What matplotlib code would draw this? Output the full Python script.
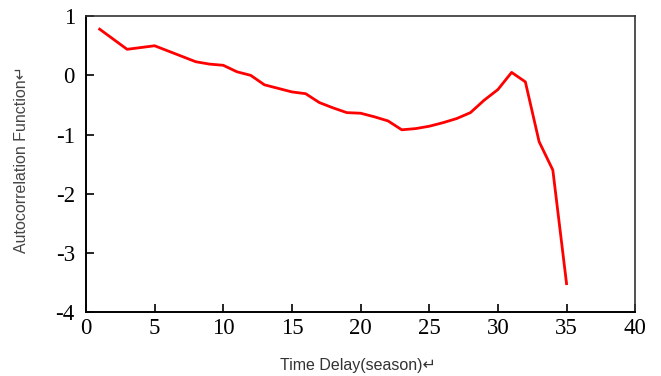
# plot.py
# autocorrelation vs time delay

import matplotlib.pyplot as plt

plt.rcParams['axes.unicode_minus'] = False

delay = list(range(1, 36))
acf = [0.78, 0.61, 0.44, 0.47, 0.50, 0.41, 0.32, 0.23, 0.19, 0.17,
       0.06, 0.00, -0.16, -0.22, -0.28, -0.31, -0.46, -0.55, -0.63, -0.64,
       -0.70, -0.77, -0.92, -0.90, -0.86, -0.80, -0.73, -0.63, -0.42, -0.24,
       0.05, -0.11, -1.12, -1.60, -3.52]

xticks = [0, 5, 10, 15, 20, 25, 30, 35, 40]
yticks = [1, 0, -1, -2, -3, -4]

fig = plt.figure(figsize=(6.61, 3.76), dpi=100)
ax = fig.add_axes([0.130, 0.170, 0.831, 0.787])

ax.plot(delay, acf, color='red', linewidth=2.0)

ax.set_xlim(0, 40)
ax.set_ylim(-4, 1)
ax.set_xticks(xticks)
ax.set_yticks(yticks)
ax.tick_params(direction='in', length=6, width=1.2, top=False, right=False,
               labelsize=16.5)
ax.tick_params(axis='x', pad=4)
ax.tick_params(axis='y', pad=8)
for lab in ax.get_xticklabels() + ax.get_yticklabels():
    lab.set_family('Liberation Serif')

for side in ['left', 'bottom']:
    ax.spines[side].set_linewidth(1.4)
for side in ['top', 'right']:
    ax.spines[side].set_linewidth(1.2)
    ax.spines[side].set_color('#333333')

fig.text(0.541, 0.027, 'Time Delay(season)\u21b5', ha='center', va='center',
         fontsize=11.5, color='#333333', family=['Liberation Sans', 'DejaVu Sans'])
fig.text(0.033, 0.575, 'Autocorrelation Function\u21b5', ha='center', va='center',
         rotation=90, fontsize=11.5, color='#444444', family=['Liberation Sans', 'DejaVu Sans'])

fig.savefig('out.png', dpi=100)
